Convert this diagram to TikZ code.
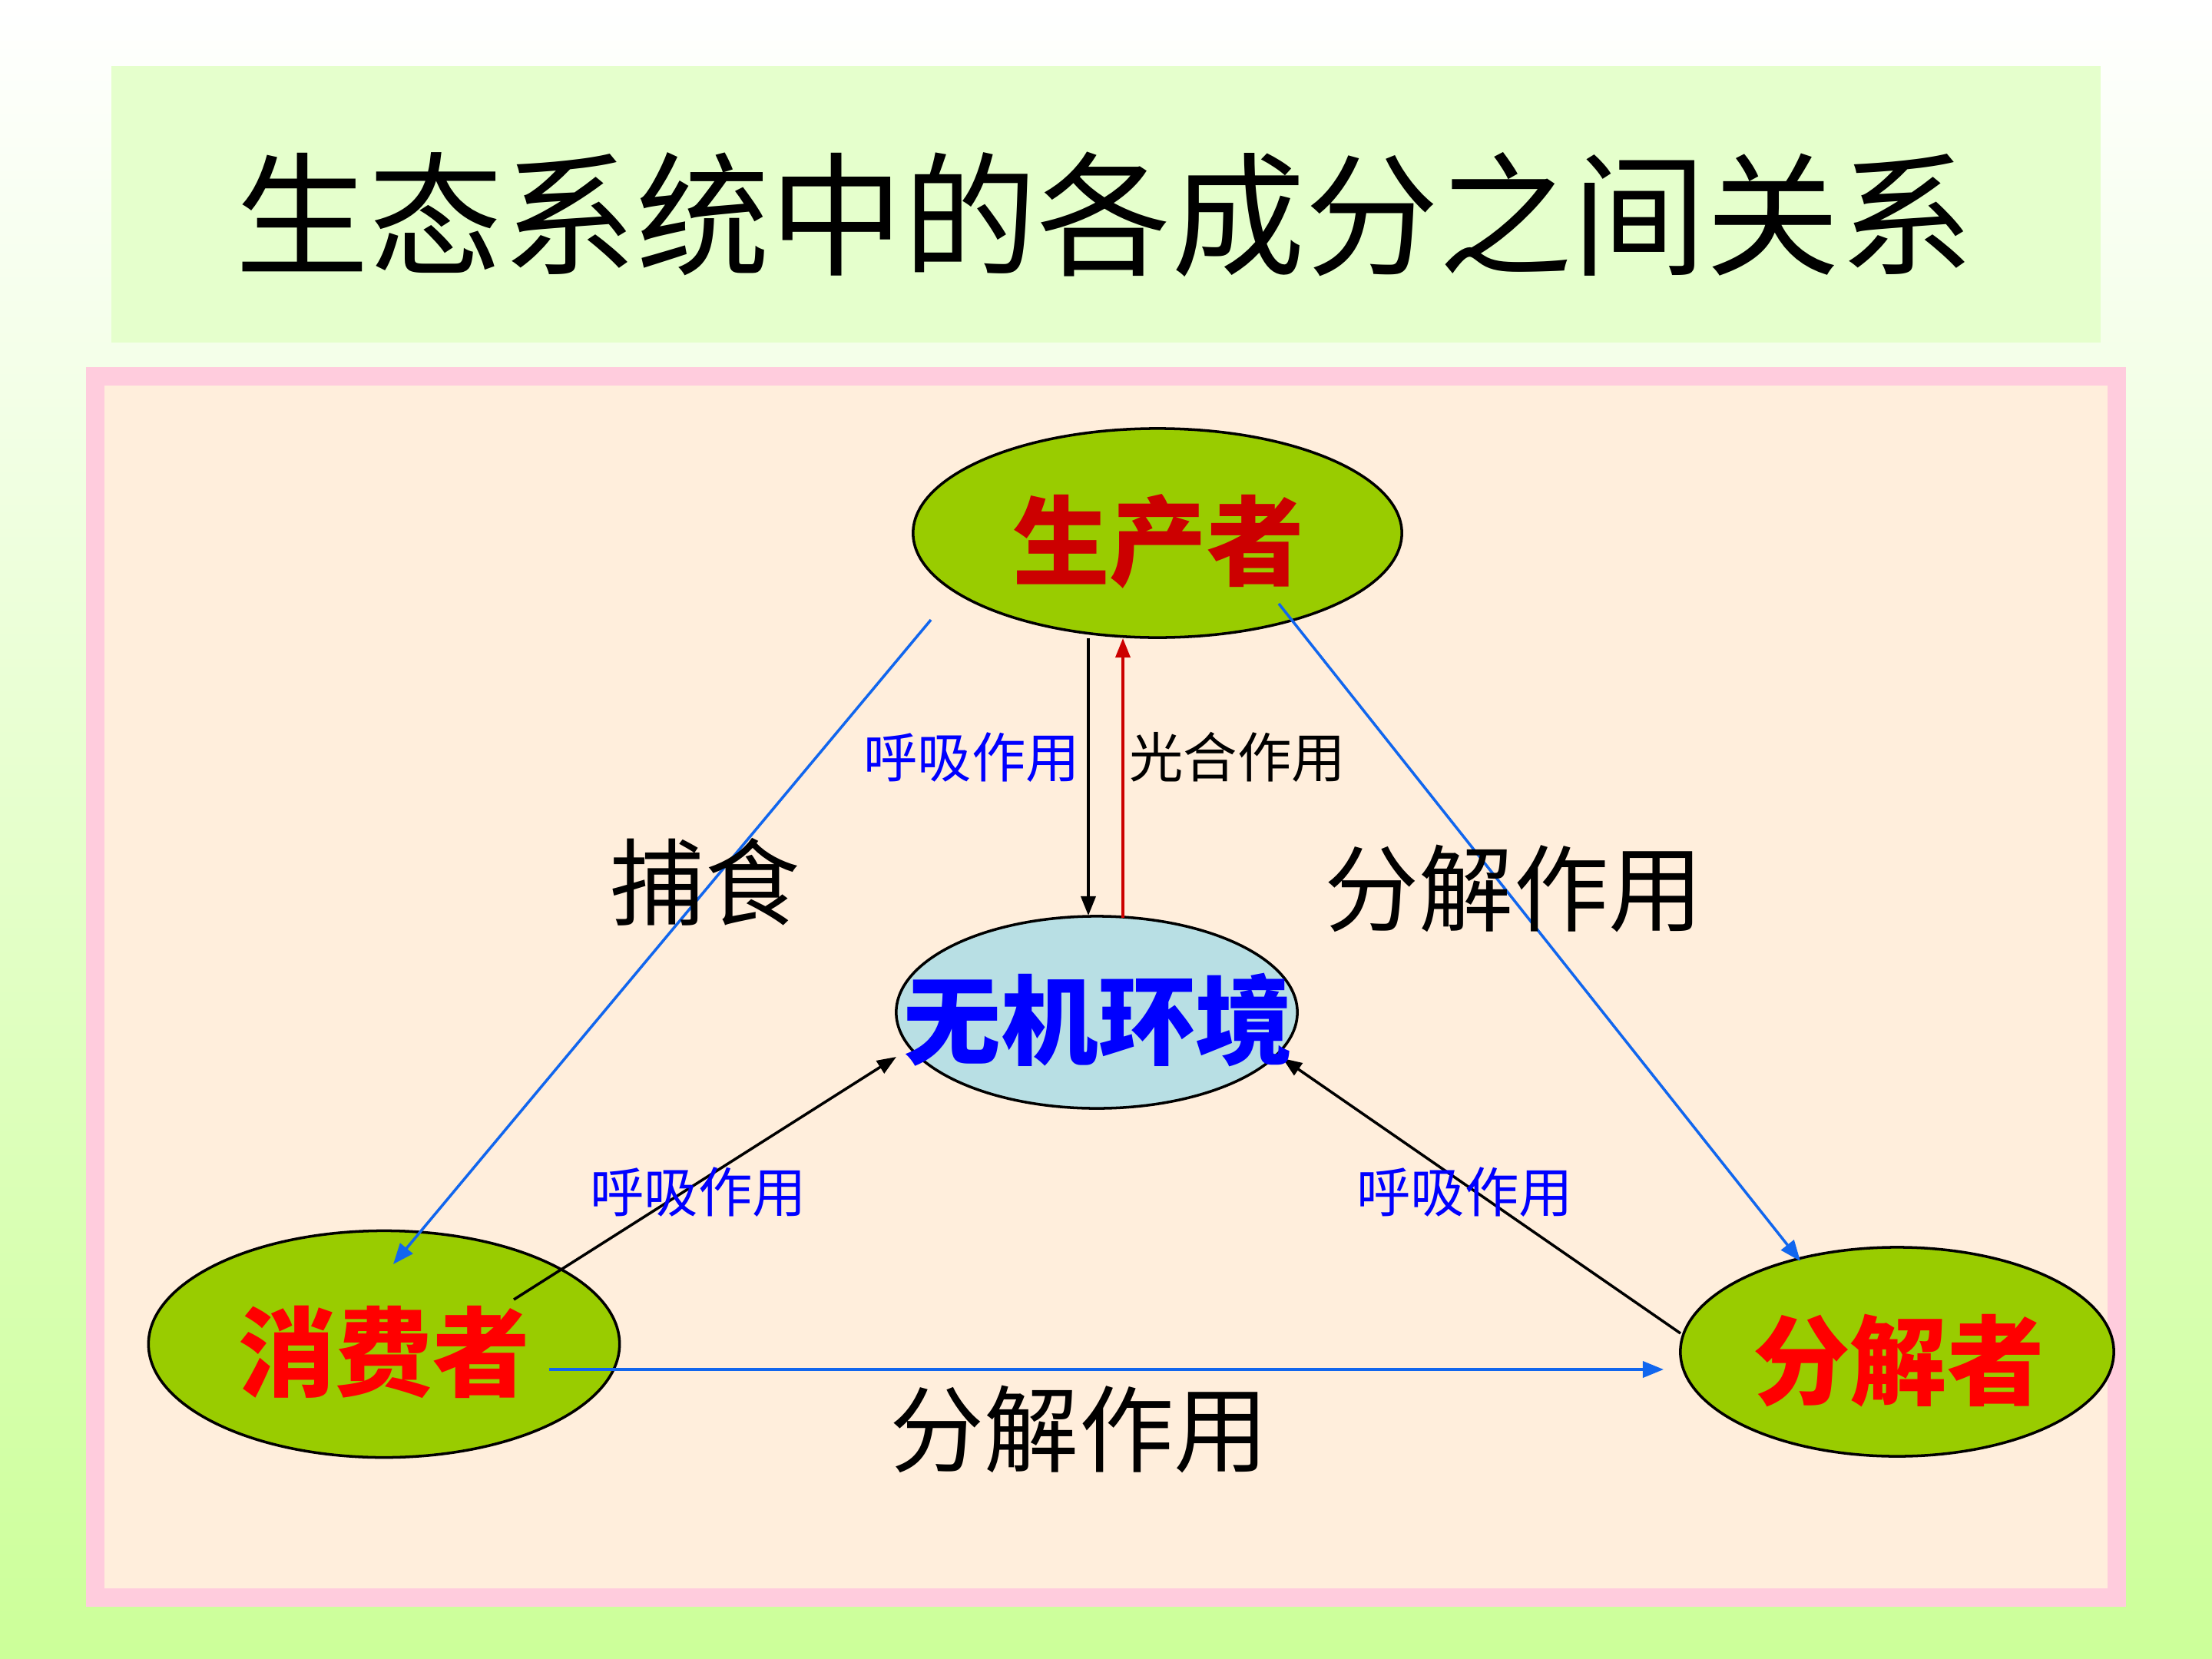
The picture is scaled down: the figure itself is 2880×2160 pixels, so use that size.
\documentclass[tikz,border=0pt]{standalone}
\usepackage{fontspec}
\newfontfamily\cjk{Noto Sans CJK SC}
\usetikzlibrary{shapes.geometric,arrows.meta}
\definecolor{bgg}{HTML}{CCFF99}
\definecolor{titleg}{HTML}{E5FFCC}
\definecolor{pinkc}{HTML}{FFCCDD}
\definecolor{peach}{HTML}{FFEEDC}
\definecolor{nodeg}{HTML}{99CC00}
\definecolor{envb}{HTML}{B8DFE4}
\definecolor{darkred}{HTML}{CC0000}
\definecolor{arrblue}{HTML}{1166EE}
\tikzset{
  greenell/.style={ellipse, draw=black, line width=1pt, fill=nodeg, inner sep=0pt},
  envell/.style={ellipse, draw=black, line width=1pt, fill=envb, inner sep=0pt},
  nodetext/.style={inner sep=0pt, font=\cjk\bfseries\fontsize{36}{40}\selectfont},
  smalllab/.style={inner sep=0pt, font=\cjk\fontsize{20}{24}\selectfont},
  biglab/.style={inner sep=0pt, font=\cjk\fontsize{35}{40}\selectfont},
  bluearr/.style={draw=arrblue, line width=1pt, -{Triangle[length=0.27cm,width=0.21cm]}},
  blackarr/.style={draw=black, line width=1pt, -{Triangle[length=0.25cm,width=0.19cm]}},
  redarr/.style={draw=darkred, line width=1pt, -{Triangle[length=0.25cm,width=0.19cm]}}
}
\begin{document}
\begin{tikzpicture}[x=0.01cm,y=-0.01cm]
\useasboundingbox (0,0) rectangle (2880,2160);
\shade[top color=white, bottom color=bgg] (0,0) rectangle (2880,2160);
% title box
\fill[titleg] (145,86) rectangle (2735,446);
\node[inner sep=0pt, font=\cjk\fontsize{49.5}{56}\selectfont] (title) at (1438,279) {生态系统中的各成分之间关系};
% frame
\fill[pinkc] (112,478) rectangle (2768,2092);
\fill[peach] (136,502) rectangle (2744,2068);
% ellipses
\node[greenell, minimum width=6.36cm, minimum height=2.72cm] (prod) at (1507,694) {};
\node[envell, minimum width=5.22cm, minimum height=2.5cm] (env) at (1428,1318) {};
\node[greenell, minimum width=6.13cm, minimum height=2.95cm] (cons) at (500,1750) {};
\node[greenell, minimum width=5.64cm, minimum height=2.72cm] (deco) at (2470,1760) {};
% connector end points
\coordinate (p1) at (1212,807);
\coordinate (c1) at (512,1646);
\coordinate (p2) at (1665,786);
\coordinate (d1) at (2344,1642);
\coordinate (c2) at (715,1783);
\coordinate (d2) at (2166,1783);
\coordinate (p3) at (1417,831);
\coordinate (e1) at (1417,1192);
\coordinate (e2) at (1462,1195);
\coordinate (p4) at (1462,831);
\coordinate (c3) at (669,1692);
\coordinate (e3) at (1167,1376);
\coordinate (d3) at (2188,1736);
\coordinate (e4) at (1670,1378);
% connectors
\draw[bluearr] (p1) -- (c1);
\draw[bluearr] (p2) -- (d1);
\draw[bluearr] (c2) -- (d2);
\draw[blackarr] (p3) -- (e1);
\draw[redarr] (e2) -- (p4);
\draw[blackarr] (c3) -- (e3);
\draw[blackarr] (d3) -- (e4);
% node texts
\node[nodetext, text=darkred] (prodt) at (1508,705) {生产者};
\node[nodetext, text=blue] (envt) at (1430,1328) {无机环境};
\node[nodetext, text=red] (const) at (500,1760) {消费者};
\node[nodetext, text=red] (decot) at (2472,1772) {分解者};
% labels
\node[smalllab, text=blue] (r1) at (1265,986) {呼吸作用};
\node[smalllab, text=black] (g1) at (1611,986) {光合作用};
\node[biglab] (l1) at (918,1148) {捕食};
\node[biglab] (l2) at (1971,1157) {分解作用};
\node[smalllab, text=blue] (r2) at (909,1552) {呼吸作用};
\node[smalllab, text=blue] (r3) at (1907,1552) {呼吸作用};
\node[biglab] (l3) at (1405,1861) {分解作用};
\end{tikzpicture}
\end{document}
